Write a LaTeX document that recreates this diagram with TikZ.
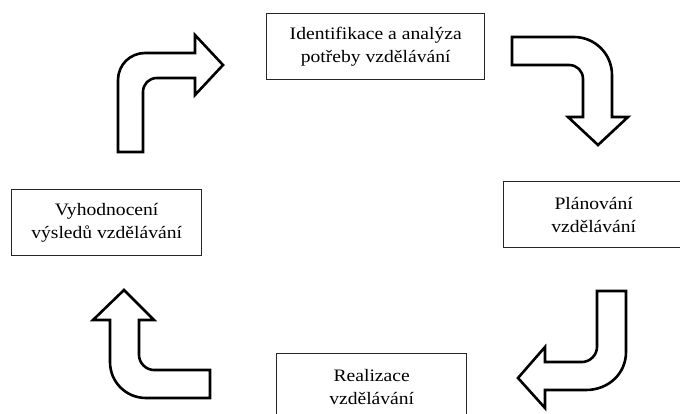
\documentclass[tikz,border=0pt]{standalone}
\usepackage{fontspec}
\setmainfont{Liberation Serif}[FakeStretch=1.12]
\begin{document}
\begin{tikzpicture}[x=1pt,y=-1pt,
  box/.style={draw=black!85, line width=1.4pt, minimum height=66pt, anchor=north west,
    align=center, inner sep=0pt, font=\fontsize{17.5}{23}\selectfont},
  bigarrow/.style={draw=black, line width=2.6pt, fill=white, line join=miter}]
\useasboundingbox (0,0) rectangle (680,414);
\begin{scope}
\clip (0,0) rectangle (680,414);
\node[box, minimum width=218pt] (ident) at (266,13) {Identifikace a analýza\\potřeby vzdělávání};
\node[box, minimum width=180pt] (plan) at (503,181) {Plánování\\vzdělávání};
\node[box, minimum width=190pt] (real) at (276,353) {Realizace\\vzdělávání};
\node[box, minimum width=190pt] (vyh) at (11,189) {Vyhodnocení\\výsledů vzdělávání};
\end{scope}
% top-left arrow
\draw[bigarrow] (118,152) -- (118,80) .. controls (118,65) and (130,53) .. (145,53)
  -- (195,53) -- (195,35) -- (223,65) -- (195,95) -- (195,78) -- (157,78)
  .. controls (149,78) and (143,84) .. (143,92) -- (143,152) -- cycle;
% top-right arrow
\draw[bigarrow] (512,37) -- (574,37) .. controls (595,37) and (612,54) .. (612,75)
  -- (612,117) -- (628,117) -- (598,145) -- (568,117) -- (583,117) -- (583,79)
  .. controls (583,71) and (577,65) .. (569,65) -- (512,65) -- cycle;
% bottom-right arrow
\draw[bigarrow] (597,291) -- (626,291) -- (626,352) .. controls (626,374) and (608,390) .. (586,390)
  -- (545,390) -- (545,408) -- (518,378) -- (545,347) -- (545,362) -- (582,362)
  .. controls (590,362) and (597,355) .. (597,347) -- cycle;
% bottom-left arrow
\draw[bigarrow] (210,370) -- (210,398) -- (146,398) .. controls (126,398) and (110,382) .. (110,362)
  -- (110,320) -- (93,320) -- (124,290) -- (154,320) -- (139,320) -- (139,355)
  .. controls (139,363) and (146,370) .. (154,370) -- cycle;
\end{tikzpicture}
\end{document}
